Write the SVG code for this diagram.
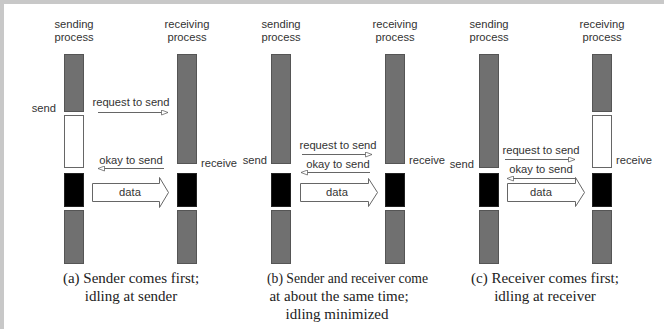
<svg xmlns="http://www.w3.org/2000/svg" width="664" height="329" viewBox="0 0 664 329">
<defs>
<style>
.lbl{font-family:"Liberation Sans",Arial,sans-serif;font-size:11.2px;fill:#333}
.cap{font-family:"Liberation Serif","Times New Roman",serif;font-size:15px;fill:#222}
.g{fill:#707070;stroke:#555;stroke-width:1}
.w{fill:#fff;stroke:#666;stroke-width:1}
.k{fill:#000;stroke:#222;stroke-width:1}
.msg{stroke:#666;stroke-width:1;fill:none}
.data{fill:#fff;stroke:#666;stroke-width:1}
</style>
<marker id="ah" markerWidth="8" markerHeight="6" refX="7" refY="3" orient="auto" markerUnits="userSpaceOnUse">
<path d="M0.5,0.5 L7,3 L0.5,5.5 Z" fill="#fff" stroke="#666" stroke-width="0.8"/>
</marker>
</defs>
<rect x="0" y="0" width="664" height="329" fill="#fff"/>
<rect x="0" y="0" width="664" height="4" fill="#c8c8c8"/>
<rect x="0" y="0" width="4" height="329" fill="#c8c8c8"/>

<!-- Panel a -->
<g id="a-sender">
<text class="lbl" x="74" y="28" text-anchor="middle">sending</text>
<text class="lbl" x="74" y="41" text-anchor="middle">process</text>
<rect class="g" x="64.5" y="54.5" width="19" height="57"/>
<rect class="w" x="64.5" y="115.5" width="19" height="52"/>
<rect class="k" x="64.5" y="173.5" width="19" height="33"/>
<rect class="g" x="64.5" y="210.5" width="19" height="53"/>
<text class="lbl" x="56" y="112" text-anchor="end">send</text>
</g>
<g id="a-receiver">
<text class="lbl" x="187" y="28" text-anchor="middle">receiving</text>
<text class="lbl" x="187" y="41" text-anchor="middle">process</text>
<rect class="g" x="177.5" y="54.5" width="19" height="109"/>
<rect class="k" x="177.5" y="173.5" width="19" height="33"/>
<rect class="g" x="177.5" y="210.5" width="19" height="53"/>
<text class="lbl" x="201" y="167">receive</text>
</g>
<g id="a-caption">
<text class="cap" x="131" y="283" text-anchor="middle">(a) Sender comes first;</text>
<text class="cap" x="131" y="301" text-anchor="middle">idling at sender</text>
</g>

<!-- Panel b -->
<g id="b-sender">
<text class="lbl" x="281" y="28" text-anchor="middle">sending</text>
<text class="lbl" x="281" y="41" text-anchor="middle">process</text>
<rect class="g" x="271.5" y="54.5" width="19" height="109"/>
<rect class="k" x="271.5" y="173.5" width="19" height="33"/>
<rect class="g" x="271.5" y="210.5" width="19" height="53"/>
<text class="lbl" x="267" y="164" text-anchor="end">send</text>
</g>
<g id="b-receiver">
<text class="lbl" x="395" y="28" text-anchor="middle">receiving</text>
<text class="lbl" x="395" y="41" text-anchor="middle">process</text>
<rect class="g" x="385.5" y="54.5" width="19" height="109"/>
<rect class="k" x="385.5" y="173.5" width="19" height="33"/>
<rect class="g" x="385.5" y="210.5" width="19" height="53"/>
<text class="lbl" x="409" y="164">receive</text>
</g>
<g id="b-caption">
<text class="cap" x="267" y="283" textLength="161" lengthAdjust="spacingAndGlyphs">(b) Sender and receiver come</text>
<text class="cap" x="339" y="301" text-anchor="middle">at about the same time;</text>
<text class="cap" x="337" y="319" text-anchor="middle">idling minimized</text>
</g>

<!-- Panel c -->
<g id="c-sender">
<text class="lbl" x="489" y="28" text-anchor="middle">sending</text>
<text class="lbl" x="489" y="41" text-anchor="middle">process</text>
<rect class="g" x="479.5" y="54.5" width="19" height="113"/>
<rect class="k" x="479.5" y="173.5" width="19" height="33"/>
<rect class="g" x="479.5" y="210.5" width="19" height="53"/>
<text class="lbl" x="474" y="168" text-anchor="end">send</text>
</g>
<g id="c-receiver">
<text class="lbl" x="602" y="28" text-anchor="middle">receiving</text>
<text class="lbl" x="602" y="41" text-anchor="middle">process</text>
<rect class="g" x="592.5" y="54.5" width="19" height="57"/>
<rect class="w" x="592.5" y="115.5" width="19" height="52"/>
<rect class="k" x="592.5" y="173.5" width="19" height="33"/>
<rect class="g" x="592.5" y="210.5" width="19" height="53"/>
<text class="lbl" x="616" y="164">receive</text>
</g>
<g id="c-caption">
<text class="cap" x="545" y="283" text-anchor="middle">(c) Receiver comes first;</text>
<text class="cap" x="545" y="301" text-anchor="middle">idling at receiver</text>
</g>

<g id="connectors">
<!-- a -->
<text class="lbl" x="131" y="106" text-anchor="middle">request to send</text>
<line class="msg" x1="98" y1="112.5" x2="168" y2="112.5" marker-end="url(#ah)"/>
<text class="lbl" x="131" y="164" text-anchor="middle">okay to send</text>
<line class="msg" x1="164" y1="168.5" x2="98" y2="168.5" marker-end="url(#ah)"/>
<path class="data" d="M92.5,183.5 H159.5 V177.5 L168.5,192.5 L159.5,207.5 V201.5 H92.5 Z"/>
<text class="lbl" x="130" y="196" text-anchor="middle">data</text>
<!-- b -->
<text class="lbl" x="338" y="149" text-anchor="middle">request to send</text>
<line class="msg" x1="302" y1="154.5" x2="372" y2="154.5" marker-end="url(#ah)"/>
<text class="lbl" x="338" y="168" text-anchor="middle">okay to send</text>
<line class="msg" x1="370" y1="172.5" x2="301" y2="172.5" marker-end="url(#ah)"/>
<path class="data" d="M300.5,183.5 H368.5 V178.5 L377.5,192.5 L368.5,206.5 V201.5 H300.5 Z"/>
<text class="lbl" x="337" y="196" text-anchor="middle">data</text>
<!-- c -->
<text class="lbl" x="541" y="154" text-anchor="middle">request to send</text>
<line class="msg" x1="505" y1="159.5" x2="575" y2="159.5" marker-end="url(#ah)"/>
<text class="lbl" x="541" y="173" text-anchor="middle">okay to send</text>
<line class="msg" x1="575" y1="178.5" x2="507" y2="178.5" marker-end="url(#ah)"/>
<path class="data" d="M507.5,183.5 H575.5 V177.5 L584.5,192.5 L575.5,206.5 V201.5 H507.5 Z"/>
<text class="lbl" x="541" y="196" text-anchor="middle">data</text>
</g>
</svg>
